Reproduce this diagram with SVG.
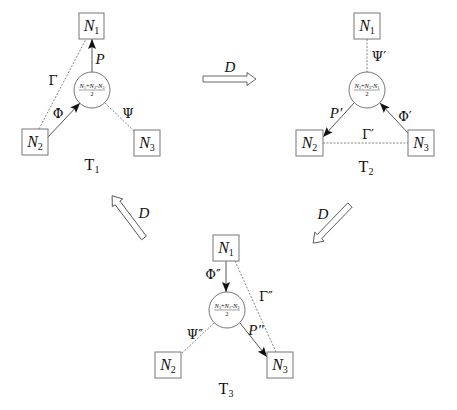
<svg xmlns="http://www.w3.org/2000/svg" width="457" height="410" viewBox="0 0 457 410">
<style>
.box{fill:#fff;stroke:#777;stroke-width:1}
.circ{fill:#fff;stroke:#666;stroke-width:0.9}
.sol{stroke:#444;stroke-width:0.9;fill:none}
.dot{stroke:#777;stroke-width:0.9;fill:none;stroke-dasharray:2,1.5}
.nl{font-family:"Liberation Serif",serif;font-style:italic;font-size:16px;fill:#111;text-anchor:middle}
.sub{font-style:normal;font-size:10px}
.gl{font-family:"DejaVu Serif","Liberation Serif",serif;font-size:13px;fill:#111;text-anchor:middle}
.il{font-family:"Liberation Serif",serif;font-style:italic;font-size:15px;fill:#111;text-anchor:middle}
.fr{font-family:"Liberation Serif",serif;font-style:italic;font-size:6.5px;fill:#111;text-anchor:middle}
.fs{font-style:normal;font-size:4px}
.fp{font-style:normal}
.fr2{font-family:"Liberation Serif",serif;font-size:6px;fill:#111;text-anchor:middle}
.tl{font-family:"Liberation Serif",serif;font-size:16px;fill:#111;text-anchor:middle}
.ha{fill:#fff;stroke:#555;stroke-width:0.9}
</style>
<defs>
<marker id="ah" viewBox="0 0 10 8" refX="10" refY="4" markerWidth="10" markerHeight="8" markerUnits="userSpaceOnUse" orient="auto">
<path d="M0,0 L10,4 L0,8 L2,4 Z" fill="#111"/>
</marker>
<path id="hollow" d="M0,-3 H44 V-6.5 L53,0 L44,6.5 V3 H0 Z"/>
</defs>

<g id="connectors">
<!-- T1 -->
<line class="sol" x1="92" y1="72" x2="92" y2="39" marker-end="url(#ah)"/>
<line class="sol" x1="48" y1="137" x2="80" y2="103" marker-end="url(#ah)"/>
<line class="dot" x1="39" y1="129" x2="86" y2="39"/>
<line class="dot" x1="105" y1="103" x2="134" y2="131"/>
<!-- T2 -->
<line class="dot" x1="367" y1="39" x2="367" y2="72"/>
<line class="sol" x1="354" y1="103" x2="323" y2="137" marker-end="url(#ah)"/>
<line class="sol" x1="408" y1="133" x2="380" y2="103" marker-end="url(#ah)"/>
<line class="dot" x1="323" y1="143" x2="408" y2="143"/>
<!-- T3 -->
<line class="sol" x1="226" y1="261" x2="226" y2="292" marker-end="url(#ah)"/>
<line class="dot" x1="235" y1="261" x2="276" y2="352"/>
<line class="sol" x1="240" y1="323" x2="267" y2="357" marker-end="url(#ah)"/>
<line class="dot" x1="214" y1="323" x2="181" y2="354"/>
<!-- D arrows -->
<use href="#hollow" class="ha" transform="translate(203,79)"/>
<use href="#hollow" class="ha" transform="translate(144,238) rotate(233)"/>
<use href="#hollow" class="ha" transform="translate(350,205) rotate(134)"/>
</g>

<g id="labels">
<text class="il" x="100" y="64">P</text>
<text class="gl" x="58" y="118">Φ</text>
<text class="gl" x="53" y="85">Γ</text>
<text class="gl" x="128" y="118">Ψ</text>
<text class="gl" x="379" y="61">Ψ′</text>
<text class="il" x="336" y="118">P′</text>
<text class="gl" x="405" y="121">Φ′</text>
<text class="gl" x="368" y="139">Γ′</text>
<text class="gl" x="213" y="279">Φ″</text>
<text class="gl" x="266" y="301">Γ″</text>
<text class="il" x="256" y="335">P″</text>
<text class="gl" x="195" y="339">Ψ″</text>
<text class="il" x="230" y="72">D</text>
<text class="il" x="144" y="218">D</text>
<text class="il" x="323" y="219">D</text>
</g>

<g id="T1">
<g id="t1n1"><rect class="box" x="79" y="13" width="25" height="26"/><text class="nl" x="91.5" y="31">N<tspan class="sub" dy="3">1</tspan></text></g>
<g id="t1c"><circle class="circ" cx="92" cy="90" r="18"/><text class="fr" x="92" y="88">N<tspan class="fs" dy="1">1</tspan><tspan class="fp" dy="-1">+</tspan>N<tspan class="fs" dy="1">2</tspan><tspan class="fp" dy="-1">-</tspan>N<tspan class="fs" dy="1">3</tspan></text><line x1="79" y1="90" x2="105" y2="90" stroke="#111" stroke-width="0.4"/><text class="fr2" x="92" y="96">2</text></g>
<g id="t1n2"><rect class="box" x="22" y="129" width="26" height="26"/><text class="nl" x="35" y="147">N<tspan class="sub" dy="3">2</tspan></text></g>
<g id="t1n3"><rect class="box" x="134" y="130" width="26" height="26"/><text class="nl" x="147" y="148">N<tspan class="sub" dy="3">3</tspan></text></g>
<g id="t1l"><text class="tl" x="92" y="170">T<tspan font-size="10" dy="3">1</tspan></text></g>
</g>

<g id="T2">
<g id="t2n1"><rect class="box" x="354" y="13" width="26" height="26"/><text class="nl" x="367" y="31">N<tspan class="sub" dy="3">1</tspan></text></g>
<g id="t2c"><circle class="circ" cx="367" cy="90" r="18"/><text class="fr" x="367" y="88">N<tspan class="fs" dy="1">2</tspan><tspan class="fp" dy="-1">+</tspan>N<tspan class="fs" dy="1">3</tspan><tspan class="fp" dy="-1">-</tspan>N<tspan class="fs" dy="1">1</tspan></text><line x1="354" y1="90" x2="380" y2="90" stroke="#111" stroke-width="0.4"/><text class="fr2" x="367" y="96">2</text></g>
<g id="t2n2"><rect class="box" x="296" y="130" width="27" height="26"/><text class="nl" x="309.5" y="148">N<tspan class="sub" dy="3">2</tspan></text></g>
<g id="t2n3"><rect class="box" x="408" y="130" width="26" height="26"/><text class="nl" x="421" y="148">N<tspan class="sub" dy="3">3</tspan></text></g>
<g id="t2l"><text class="tl" x="366" y="172">T<tspan font-size="10" dy="3">2</tspan></text></g>
</g>

<g id="T3">
<g id="t3n1"><rect class="box" x="213" y="235" width="26" height="26"/><text class="nl" x="226" y="253">N<tspan class="sub" dy="3">1</tspan></text></g>
<g id="t3c"><circle class="circ" cx="227" cy="310" r="18"/><text class="fr" x="227" y="308">N<tspan class="fs" dy="1">3</tspan><tspan class="fp" dy="-1">+</tspan>N<tspan class="fs" dy="1">1</tspan><tspan class="fp" dy="-1">-</tspan>N<tspan class="fs" dy="1">2</tspan></text><line x1="214" y1="310" x2="240" y2="310" stroke="#111" stroke-width="0.4"/><text class="fr2" x="227" y="316">2</text></g>
<g id="t3n2"><rect class="box" x="155" y="352" width="26" height="26"/><text class="nl" x="168" y="370">N<tspan class="sub" dy="3">2</tspan></text></g>
<g id="t3n3"><rect class="box" x="267" y="352" width="26" height="26"/><text class="nl" x="280" y="370">N<tspan class="sub" dy="3">3</tspan></text></g>
<g id="t3l"><text class="tl" x="226" y="394">T<tspan font-size="10" dy="3">3</tspan></text></g>
</g>
</svg>
